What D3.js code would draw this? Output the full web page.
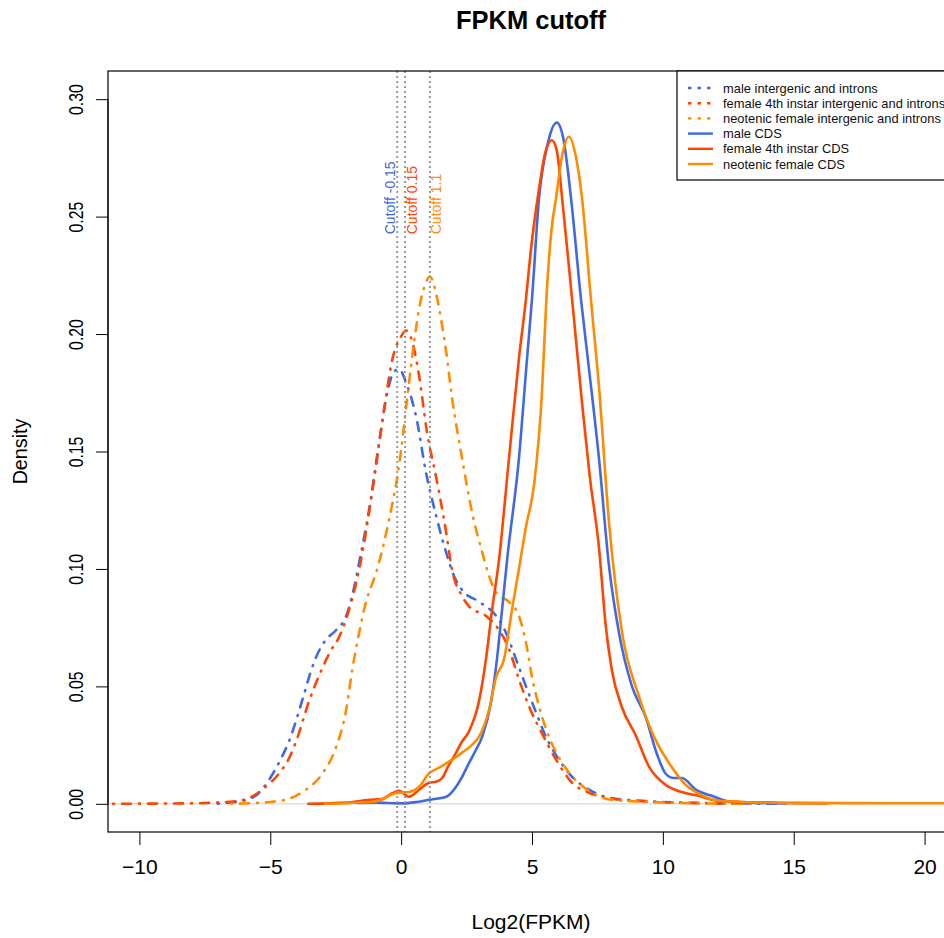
<!DOCTYPE html>
<html>
<head>
<meta charset="utf-8">
<script src="https://cdn.jsdelivr.net/npm/d3@7"></script>
<style>
    body { margin: 0; background: #fff; }
    text { font-family: 'Liberation Sans', Arial, Helvetica, sans-serif; }
</style>
</head>
<body>
<div class="chart"></div>
<script>
// density curves, [log2(FPKM), density]
let maleIntergenic = [[-7.0, 0], [-6.5, 0.0006], [-6.0, 0.0014], [-5.5, 0.004], [-5.0, 0.011], [-4.6, 0.019],
    [-4.27, 0.027], [-3.78, 0.044], [-3.4, 0.058], [-3.1, 0.066], [-2.86, 0.070], [-2.48, 0.074], [-2.1, 0.080],
    [-1.8, 0.092], [-1.6, 0.103], [-1.22, 0.1255], [-0.84, 0.154], [-0.53, 0.175], [-0.27, 0.184], [-0.08, 0.185],
    [0.23, 0.178], [0.57, 0.165], [0.95, 0.141], [1.34, 0.1225], [1.72, 0.107], [2.02, 0.097], [2.33, 0.091],
    [2.98, 0.086], [3.63, 0.080], [4.0, 0.073], [4.39, 0.0615], [4.77, 0.050], [5.15, 0.039], [5.53, 0.0286],
    [6.03, 0.0188], [6.53, 0.0115], [7.18, 0.006], [7.94, 0.0026], [9.0, 0.0014], [10.0, 0.0008], [12.0, 0.0003],
    [14.5, 0]];
let femaleIntergenic = [[-12, 0], [-8, 0.0002], [-7, 0.0006], [-6.3, 0.0012], [-5.8, 0.0025], [-5.2, 0.007],
    [-4.66, 0.013], [-4.3, 0.019], [-4.0, 0.027], [-3.51, 0.044], [-3.0, 0.058], [-2.7, 0.065], [-2.37, 0.071],
    [-1.98, 0.083], [-1.6, 0.100], [-1.1, 0.133], [-0.65, 0.168], [-0.34, 0.189], [0.0, 0.199], [0.19, 0.2015],
    [0.42, 0.197], [0.69, 0.182], [0.99, 0.158], [1.33, 0.1395], [1.64, 0.121], [2.0, 0.097], [2.3, 0.089],
    [2.6, 0.084], [3.24, 0.080], [3.74, 0.074], [4.12, 0.066], [4.5, 0.053], [4.89, 0.0414], [5.38, 0.030],
    [5.92, 0.0188], [6.53, 0.009], [7.18, 0.0047], [7.82, 0.0026], [9.0, 0.0012], [10.5, 0.0005], [12.3, 0]];
let neotenicIntergenic = [[-6.5, 0], [-5.5, 0.0004], [-5.0, 0.0008], [-4.4, 0.0018], [-4.0, 0.0035], [-3.64, 0.006],
    [-3.0, 0.013], [-2.48, 0.0243], [-2.1, 0.040], [-1.87, 0.057], [-1.6, 0.073], [-1.34, 0.086], [-0.95, 0.0986],
    [-0.46, 0.121], [-0.08, 0.144], [0.23, 0.1725], [0.5, 0.197], [0.69, 0.211], [0.95, 0.222], [1.1, 0.2245],
    [1.26, 0.2207], [1.45, 0.211], [1.72, 0.1925], [1.95, 0.1725], [2.33, 0.147], [2.71, 0.124], [3.1, 0.107],
    [3.36, 0.097], [3.63, 0.090], [4.12, 0.086], [4.5, 0.080], [4.77, 0.0687], [5.0, 0.054], [5.27, 0.0414],
    [5.65, 0.0286], [6.15, 0.0175], [6.68, 0.010], [7.3, 0.0047], [8.05, 0.0017], [9.5, 0.0008], [11, 0.0003],
    [13.5, 0]];
let maleCDS = [[-1.72, 0.0004], [-1.0, 0.0005], [0.04, 0.0002], [0.6, 0.0008], [1.07, 0.0017], [1.72, 0.003],
    [2.1, 0.0073], [2.33, 0.0115], [2.6, 0.0175], [2.86, 0.023], [3.1, 0.0286], [3.43, 0.043], [3.66, 0.0615],
    [3.86, 0.083], [4.05, 0.104], [4.5, 0.147], [4.81, 0.1895], [5.0, 0.215], [5.27, 0.258], [5.6, 0.281],
    [5.95, 0.290], [6.2, 0.283], [6.49, 0.258], [6.87, 0.215], [7.18, 0.185], [7.56, 0.147], [7.94, 0.1015],
    [8.32, 0.073], [8.82, 0.050], [9.35, 0.0367], [9.77, 0.0213], [10.11, 0.0128], [10.4, 0.011], [10.73, 0.011],
    [11.26, 0.006], [11.87, 0.0034], [12.63, 0.0008], [13.5, 0.0004], [14.7, 0.0002]];
let femaleCDS = [[-3.55, 0], [-2.1, 0.0005], [-1.22, 0.0017], [-0.73, 0.002], [-0.34, 0.0045], [-0.08, 0.0055],
    [0.3, 0.003], [0.69, 0.006], [1.07, 0.009], [1.34, 0.0094], [1.57, 0.011], [1.8, 0.016], [2.1, 0.0218],
    [2.3, 0.026], [2.6, 0.031], [2.98, 0.044], [3.24, 0.0615], [3.48, 0.083], [3.74, 0.104], [4.12, 0.147],
    [4.5, 0.1895], [4.77, 0.215], [4.95, 0.235], [5.27, 0.262], [5.5, 0.277], [5.76, 0.2825], [5.95, 0.278],
    [6.15, 0.258], [6.53, 0.215], [6.9, 0.172], [7.2, 0.14], [7.56, 0.109], [7.82, 0.0755], [8.05, 0.057],
    [8.44, 0.041], [8.97, 0.029], [9.47, 0.0158], [10.11, 0.008], [10.73, 0.005], [11.37, 0.0034], [12.0, 0.0015],
    [13.0, 0.0008], [14.0, 0.0006], [15.0, 0.0003], [16.3, 0.0002]];
let neotenicCDS = [[-2.9, 0], [-1.0, 0.001], [-0.2, 0.0045], [0.3, 0.005], [0.69, 0.0073], [1.07, 0.013],
    [1.45, 0.0154], [1.95, 0.0188], [2.33, 0.0218], [2.7, 0.025], [2.98, 0.0286], [3.36, 0.040], [3.63, 0.054],
    [3.93, 0.0615], [4.24, 0.083], [4.5, 0.10], [4.77, 0.118], [5.08, 0.136], [5.38, 0.175], [5.55, 0.215],
    [5.75, 0.245], [5.92, 0.258], [6.15, 0.276], [6.41, 0.284], [6.65, 0.277], [6.91, 0.258], [7.25, 0.215],
    [7.56, 0.1775], [7.94, 0.120], [8.44, 0.073], [9.08, 0.046], [9.73, 0.027], [10.23, 0.0175], [10.88, 0.008],
    [11.37, 0.0043], [12.14, 0.0013], [13, 0.0008], [15, 0.0004], [17, 0.0003], [22, 0.0002]];

let seriesNames = ['male intergenic and introns', 'female 4th instar intergenic and introns',
    'neotenic female intergenic and introns', 'male CDS', 'female 4th instar CDS', 'neotenic female CDS'];
let seriesData = [maleIntergenic, femaleIntergenic, neotenicIntergenic, maleCDS, femaleCDS, neotenicCDS];
let seriesColors = ['royalblue', 'orangered', 'darkorange', 'royalblue', 'orangered', 'darkorange'];
let seriesDashed = [true, true, true, false, false, false];

let cutoffValues = [-0.15, 0.15, 1.1];
let cutoffLabels = ['Cutoff -0.15', 'Cutoff 0.15', 'Cutoff 1.1'];
let cutoffColors = ['royalblue', 'orangered', 'darkorange'];

let xTicks = [-10, -5, 0, 5, 10, 15, 20];
let yTicks = [0, 0.05, 0.10, 0.15, 0.20, 0.25, 0.30];

let _width = 944, _height = 938;
let plot = {left: 108, right: 956, top: 71, bottom: 832};

let svg = d3.select('.chart')
    .append('svg')
    .attr('width', _width)
    .attr('height', _height);

let x = d3.scaleLinear().domain([-11.2, 21.2]).range([plot.left, plot.right]);
let y = d3.scaleLinear().domain([-0.012, 0.312]).range([plot.bottom, plot.top]);

svg.append('defs').append('clipPath')
    .attr('id', 'plotclip')
    .append('rect')
    .attr('x', plot.left).attr('y', plot.top)
    .attr('width', plot.right - plot.left).attr('height', plot.bottom - plot.top);

// zero line
svg.append('line')
    .attr('x1', plot.left).attr('x2', plot.right)
    .attr('y1', y(0)).attr('y2', y(0))
    .attr('stroke', '#d0d0d0')
    .attr('stroke-width', 1);

let line = d3.line()
    .x(d => x(d[0]))
    .y(d => y(d[1]))
    .curve(d3.curveMonotoneX);

svg.append('g')
    .attr('clip-path', 'url(#plotclip)')
    .selectAll('path')
    .data(seriesData)
    .enter().append('path')
    .attr('d', d => line(d))
    .attr('fill', 'none')
    .attr('stroke', (d, i) => seriesColors[i])
    .attr('stroke-width', 2.6)
    .attr('stroke-linecap', 'round')
    .attr('stroke-linejoin', 'round')
    .attr('stroke-dasharray', (d, i) => seriesDashed[i] ? '1,8,9,8' : null);

// cutoff lines
svg.append('g')
    .selectAll('line')
    .data(cutoffValues)
    .enter().append('line')
    .attr('x1', d => x(d)).attr('x2', d => x(d))
    .attr('y1', plot.top).attr('y2', plot.bottom)
    .attr('stroke', '#999')
    .attr('stroke-width', 2)
    .attr('stroke-dasharray', '2,3');

svg.append('g')
    .selectAll('text')
    .data(cutoffValues)
    .enter().append('text')
    .attr('transform', d => `translate(${x(d) + (d < 0 ? -2.5 : 11.5)},${y(0.2425)}) rotate(-90)`)
    .attr('fill', (d, i) => cutoffColors[i])
    .style('font-size', '14px')
    .text((d, i) => cutoffLabels[i]);

// axes
let xAxis = svg.append('g')
    .attr('transform', `translate(0,${plot.bottom})`)
    .call(d3.axisBottom(x).tickValues(xTicks).tickSize(13).tickPadding(14).tickFormat(d3.format('d')));
xAxis.select('.domain').remove();
xAxis.selectAll('line').attr('stroke', '#000');
xAxis.selectAll('text')
    .attr('fill', '#000')
    .style('font-size', '21px')
    .style('font-family', "'Liberation Sans', Arial, Helvetica, sans-serif");

let yAxis = svg.append('g')
    .attr('transform', `translate(${plot.left},0)`)
    .call(d3.axisLeft(y).tickValues(yTicks).tickSize(12).tickFormat(d3.format('.2f')));
yAxis.select('.domain').remove();
yAxis.selectAll('line').attr('stroke', '#000');
yAxis.selectAll('text')
    .attr('x', null)
    .attr('dy', null)
    .attr('text-anchor', 'middle')
    .attr('transform', 'translate(-25,0) rotate(-90) scale(0.75,1)')
    .attr('fill', '#000')
    .style('font-size', '21px')
    .style('font-family', "'Liberation Sans', Arial, Helvetica, sans-serif");
yAxis.append('line')
    .attr('x1', 0).attr('x2', 0)
    .attr('y1', y(yTicks[0])).attr('y2', y(yTicks[yTicks.length - 1]))
    .attr('stroke', '#000');

// frame
svg.append('rect')
    .attr('x', plot.left).attr('y', plot.top)
    .attr('width', plot.right - plot.left).attr('height', plot.bottom - plot.top)
    .attr('fill', 'none')
    .attr('stroke', '#000')
    .attr('stroke-width', 1.2);

// titles
svg.append('text')
    .attr('x', (plot.left + plot.right) / 2 - 1)
    .attr('y', 29)
    .attr('text-anchor', 'middle')
    .style('font-size', '25.5px')
    .style('font-weight', 'bold')
    .text('FPKM cutoff');

svg.append('text')
    .attr('x', (plot.left + plot.right) / 2 - 1)
    .attr('y', 929)
    .attr('text-anchor', 'middle')
    .style('font-size', '21px')
    .text('Log2(FPKM)');

svg.append('text')
    .attr('transform', `translate(27,${(plot.top + plot.bottom) / 2}) rotate(-90) scale(0.94,1)`)
    .attr('text-anchor', 'middle')
    .style('font-size', '21px')
    .text('Density');

// legend
let legend = svg.append('g')
    .attr('transform', `translate(677,${plot.top})`);
legend.append('rect')
    .attr('width', plot.right - 677).attr('height', 109)
    .attr('fill', '#fff')
    .attr('stroke', '#000')
    .attr('stroke-width', 1.2);
let rows = legend.selectAll('.row')
    .data(seriesNames)
    .enter().append('g')
    .attr('class', 'row')
    .attr('transform', (d, i) => `translate(0,${17 + i * 15.2})`);
rows.append('line')
    .attr('x1', 11).attr('x2', 36)
    .attr('stroke', (d, i) => seriesColors[i])
    .attr('stroke-width', 2.4)
    .attr('stroke-dasharray', (d, i) => seriesDashed[i] ? '3.5,6' : null);
rows.append('text')
    .attr('x', 46)
    .attr('dy', '0.35em')
    .style('font-size', '12.9px')
    .attr('fill', '#111')
    .text(d => d);
</script>
</body>
</html>
